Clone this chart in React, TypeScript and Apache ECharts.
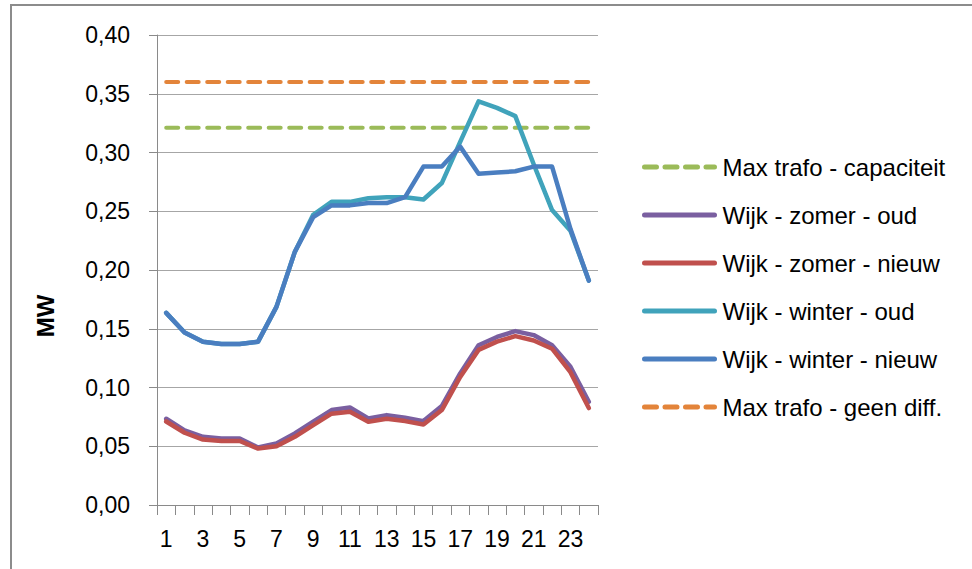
import React, { useEffect, useRef } from "react";
import * as echarts from "echarts";

const hours = ["1","2","3","4","5","6","7","8","9","10","11","12","13","14","15","16","17","18","19","20","21","22","23","24"];
const yTicks = [0, 0.05, 0.1, 0.15, 0.2, 0.25, 0.3, 0.35, 0.4];

const maxCapaciteit = [0.321,0.321,0.321,0.321,0.321,0.321,0.321,0.321,0.321,0.321,0.321,0.321,0.321,0.321,0.321,0.321,0.321,0.321,0.321,0.321,0.321,0.321,0.321,0.321];
const zomerOud = [0.0734,0.0635,0.058,0.0565,0.0565,0.049,0.0524,0.0609,0.071,0.0808,0.083,0.0737,0.0765,0.0742,0.0714,0.0842,0.112,0.136,0.143,0.148,0.1446,0.136,0.1176,0.0878];
const zomerNieuw = [0.0711,0.0615,0.0557,0.0545,0.0545,0.048,0.05,0.058,0.068,0.0777,0.0794,0.0709,0.0734,0.0714,0.0685,0.0808,0.109,0.132,0.139,0.1437,0.14,0.133,0.113,0.0825];
const winterOud = [0.1635,0.1468,0.139,0.137,0.137,0.139,0.1686,0.2154,0.247,0.258,0.258,0.261,0.262,0.262,0.26,0.274,0.309,0.3435,0.338,0.331,0.29,0.251,0.2335,0.191];
const winterNieuw = [0.1635,0.1468,0.139,0.137,0.137,0.139,0.1686,0.2154,0.245,0.255,0.255,0.257,0.257,0.262,0.288,0.288,0.305,0.282,0.283,0.284,0.288,0.288,0.235,0.191];
const maxGeenDiff = [0.36,0.36,0.36,0.36,0.36,0.36,0.36,0.36,0.36,0.36,0.36,0.36,0.36,0.36,0.36,0.36,0.36,0.36,0.36,0.36,0.36,0.36,0.36,0.36];

const FONT = "'Liberation Sans', Arial, sans-serif";

export default function App() {
  const ref = useRef<HTMLDivElement>(null);
  useEffect(() => {
    if (!ref.current) return;
    const chart = echarts.init(ref.current, null, { renderer: "svg" });
    const solid = (name: string, data: number[], color: string) => ({
      name, type: "line", data, symbol: "none", smooth: false,
      lineStyle: { color, width: 4.5, cap: "round", join: "round" },
      itemStyle: { color },
    });
    const dashed = (name: string, data: number[], color: string) => ({
      name, type: "line", data, symbol: "none",
      lineStyle: { color, width: 4, type: [12, 8.5], cap: "round" },
      itemStyle: { color },
    });
    chart.setOption({
      animation: false,
      backgroundColor: "#ffffff",
      textStyle: { fontFamily: FONT },
      grid: { left: 157, top: 35, right: 374, bottom: 64, containLabel: false },
      xAxis: {
        type: "category",
        data: hours,
        boundaryGap: true,
        axisLine: { lineStyle: { color: "#8a8a8a", width: 1 } },
        axisTick: { show: true, interval: 0, length: 10, lineStyle: { color: "#8a8a8a" } },
        axisLabel: { interval: 1, color: "#000", fontSize: 23, margin: 22, fontFamily: FONT },
        splitLine: { show: false },
      },
      yAxis: {
        type: "value",
        min: yTicks[0],
        max: yTicks[yTicks.length - 1],
        interval: 0.05,
        axisLine: { show: true, lineStyle: { color: "#8a8a8a", width: 1 } },
        axisTick: { show: true, length: 8, lineStyle: { color: "#8a8a8a" } },
        axisLabel: {
          color: "#000", fontSize: 23, margin: 27, fontFamily: FONT,
          formatter: (v: number) => v.toFixed(2).replace(".", ","),
        },
        splitLine: { show: true, lineStyle: { color: "#a6a6a6", width: 1 } },
      },
      legend: {
        orient: "vertical",
        left: 642,
        top: 155,
        padding: 0,
        itemWidth: 70,
        itemHeight: 14,
        itemGap: 24,
        itemStyle: { opacity: 0 },
        lineStyle: { width: 5, cap: "round" },
        textStyle: { color: "#000", fontSize: 24, fontFamily: FONT, padding: [0, 0, 0, 3] },
        data: [
          "Max trafo - capaciteit",
          "Wijk - zomer - oud",
          "Wijk - zomer - nieuw",
          "Wijk - winter - oud",
          "Wijk - winter - nieuw",
          "Max trafo - geen diff.",
        ],
      },
      graphic: [
        {
          type: "rect",
          shape: { x: 11, y: 5, width: 1000, height: 600 },
          style: { fill: "none", stroke: "#8c8c8c", lineWidth: 2 },
          silent: true,
        },
        {
          type: "text",
          x: 45,
          y: 316,
          rotation: Math.PI / 2,
          style: {
            text: "MW", fontSize: 24, fontWeight: "bold", fontFamily: FONT,
            fill: "#000", align: "center", verticalAlign: "middle",
          },
        },
      ],
      series: [
        dashed("Max trafo - capaciteit", maxCapaciteit, "#9BBB59"),
        solid("Wijk - zomer - oud", zomerOud, "#7A5FA0"),
        solid("Wijk - zomer - nieuw", zomerNieuw, "#C0504D"),
        solid("Wijk - winter - oud", winterOud, "#40A3BB"),
        solid("Wijk - winter - nieuw", winterNieuw, "#4A7EC0"),
        dashed("Max trafo - geen diff.", maxGeenDiff, "#E3843A"),
      ],
    });
    return () => chart.dispose();
  }, []);
  return (
    <div
      ref={ref}
      style={{ position: "fixed", left: 0, top: 0, width: 972, height: 569 }}
    />
  );
}
